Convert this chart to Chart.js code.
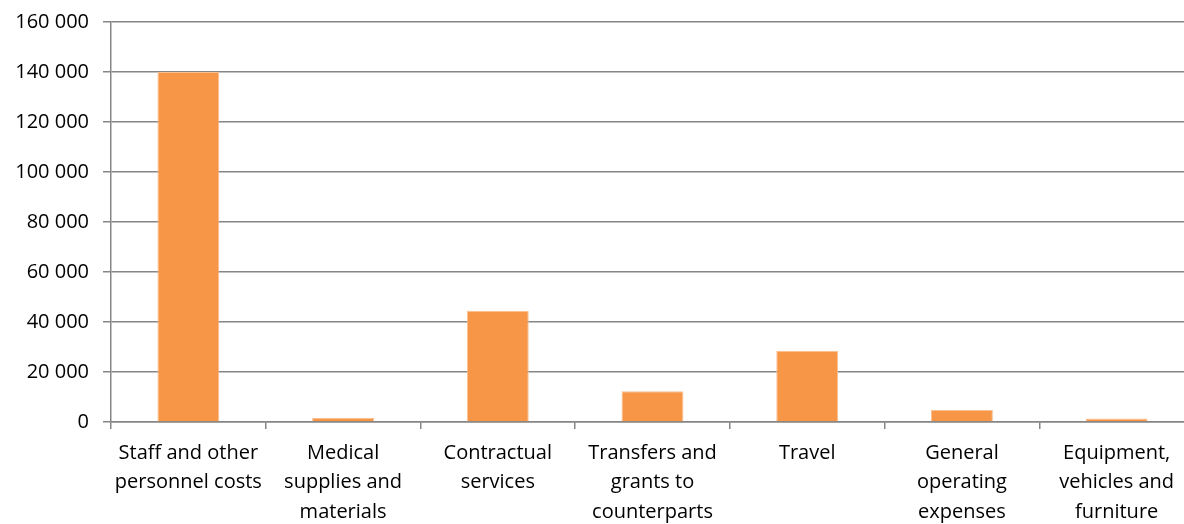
<!DOCTYPE html>
<html>
<head>
<meta charset="utf-8">
<script src="https://cdn.jsdelivr.net/npm/chart.js@4/dist/chart.umd.min.js"></script>
<style>
  html, body { margin: 0; padding: 0; background: #fff; overflow: hidden; }
  #wrap { width: 1194px; height: 524px; }
</style>
</head>
<body>
<div id="wrap"><canvas id="costChart"></canvas></div>
<script>
// Expenditure by cost category
const categories = [
    ['Staff and other', 'personnel costs'],
    ['Medical', 'supplies and', 'materials'],
    ['Contractual', 'services'],
    ['Transfers and', 'grants to', 'counterparts'],
    ['Travel'],
    ['General', 'operating', 'expenses'],
    ['Equipment,', 'vehicles and', 'furniture']
];
const amounts = [140000, 1700, 44500, 12300, 28500, 4800, 1400];
const yTicks = [0, 20000, 40000, 60000, 80000, 100000, 120000, 140000, 160000];

const fontFamily = "'Open Sans', 'Liberation Sans', sans-serif";

// thousands separated with a space, e.g. 140 000
function formatAmount(v) {
    return String(v).replace(/\B(?=(\d{3})+(?!\d))/g, ' ');
}

const ctx = document.getElementById('costChart').getContext('2d');
new Chart(ctx, {
    type: 'bar',
    data: {
        labels: categories,
        datasets: [{
            data: amounts,
            backgroundColor: '#F79646',
            borderColor: '#FAC090',
            borderWidth: 1,
            barPercentage: 0.4,
            categoryPercentage: 1.0
        }]
    },
    options: {
        responsive: true,
        maintainAspectRatio: false,
        animation: false,
        layout: { padding: { top: 22, left: 0, right: 0, bottom: 0 } },
        plugins: {
            legend: { display: false },
            tooltip: { enabled: false }
        },
        scales: {
            x: {
                grid: {
                    drawOnChartArea: false,
                    drawTicks: true,
                    tickLength: 7,
                    color: '#868686',
                    lineWidth: 1.5
                },
                border: { color: '#868686', width: 1.5 },
                ticks: {
                    color: '#000',
                    maxRotation: 0,
                    autoSkip: false,
                    padding: 9,
                    font: { family: fontFamily, size: 20, lineHeight: 1.48 }
                },
                afterFit: (axis) => {
                    axis.height = 102;
                    axis.paddingLeft = 0;
                    axis.paddingRight = 0;
                }
            },
            y: {
                min: 0,
                max: 160000,
                afterBuildTicks: (axis) => {
                    axis.ticks = yTicks.map(v => ({ value: v }));
                },
                grid: {
                    color: '#868686',
                    lineWidth: 1.5,
                    tickLength: 8
                },
                border: { color: '#868686', width: 1.5 },
                ticks: {
                    color: '#000',
                    padding: 14,
                    font: { family: fontFamily, size: 20 },
                    callback: (value) => formatAmount(value)
                },
                afterFit: (axis) => {
                    axis.width = 111;
                    axis.paddingTop = 0;
                    axis.paddingBottom = 0;
                }
            }
        }
    }
});
</script>
</body>
</html>
